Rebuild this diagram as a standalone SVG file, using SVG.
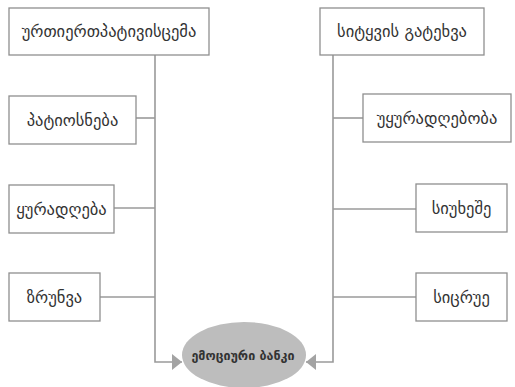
<svg xmlns="http://www.w3.org/2000/svg" width="515" height="387" viewBox="0 0 515 387">
<defs>
<style>
.box{fill:#fff;stroke:#8f8f8f;stroke-width:1.3}
.t{font-family:"DejaVu Sans",sans-serif;font-size:16.5px;fill:#333;text-anchor:middle;dominant-baseline:central}
.c{fill:none;stroke:#9a9a9a;stroke-width:1.6}
.et{font-family:"DejaVu Sans",sans-serif;font-size:12.5px;font-weight:bold;fill:#333;text-anchor:middle;dominant-baseline:central}
</style>
<marker id="ah" viewBox="0 0 10 16" refX="10" refY="8" markerWidth="10" markerHeight="16" markerUnits="userSpaceOnUse" orient="auto">
<path d="M0,0 L10,8 L0,16 Z" fill="#a3a3a3"/>
</marker>
</defs>
<rect width="515" height="387" fill="#fff"/>
<g id="connectors">
<path class="c" d="M155,55 V362 H182" marker-end="url(#ah)"/>
<path class="c" d="M333,55 V362 H306" marker-end="url(#ah)"/>
<path class="c" d="M136,118 H155"/>
<path class="c" d="M114,208 H155"/>
<path class="c" d="M100,297 H155"/>
<path class="c" d="M333,118 H363"/>
<path class="c" d="M333,209 H416"/>
<path class="c" d="M333,297 H416"/>
</g>
<g id="n1"><rect class="box" x="9" y="8" width="200" height="47"/><text class="t" x="109" y="31.5">ურთიერთპატივისცემა</text></g>
<g id="n2"><rect class="box" x="320" y="8" width="164" height="47"/><text class="t" x="402" y="31.5">სიტყვის გატეხვა</text></g>
<g id="n3"><rect class="box" x="9" y="96" width="127" height="48"/><text class="t" x="72.5" y="120">პატიოსნება</text></g>
<g id="n4"><rect class="box" x="363" y="94" width="148" height="48"/><text class="t" x="437" y="118">უყურადღებობა</text></g>
<g id="n5"><rect class="box" x="9" y="185" width="105" height="48"/><text class="t" x="61.5" y="209">ყურადღება</text></g>
<g id="n6"><rect class="box" x="416" y="184" width="91" height="48"/><text class="t" x="461.5" y="208">სიუხეშე</text></g>
<g id="n7"><rect class="box" x="9" y="273" width="91" height="48"/><text class="t" x="54.5" y="297">ზრუნვა</text></g>
<g id="n8"><rect class="box" x="416" y="273" width="91" height="48"/><text class="t" x="461.5" y="297">სიცრუე</text></g>
<g id="n9"><ellipse cx="244" cy="355" rx="62" ry="33" fill="#bdbdbd"/><text class="et" x="243" y="355">ემოციური ბანკი</text></g>
</svg>
